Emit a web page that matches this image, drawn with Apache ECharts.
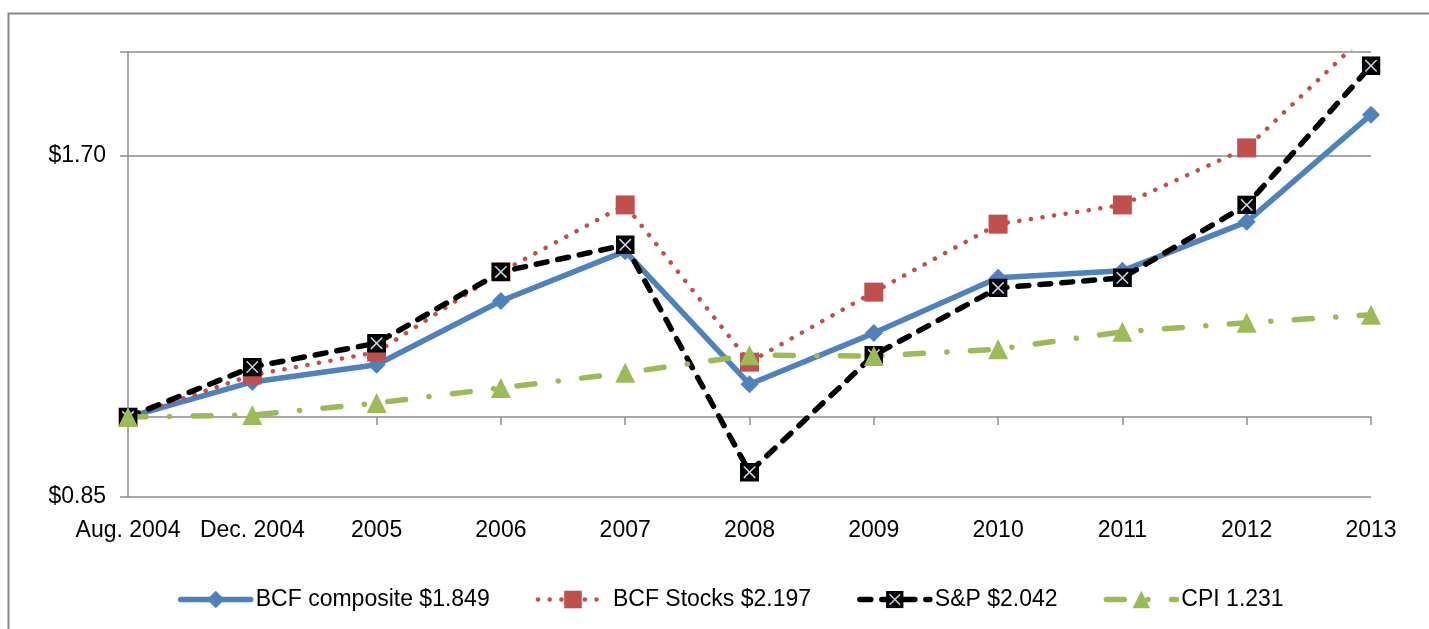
<!DOCTYPE html>
<html>
<head>
<meta charset="utf-8">
<script src="https://cdn.jsdelivr.net/npm/echarts@6/dist/echarts.min.js"></script>
<style>
html,body{margin:0;padding:0;background:#fff;}
#chart{width:1429px;height:629px;}
</style>
</head>
<body>
<div id="chart"></div>
<script>
const categories = ['Aug. 2004','Dec. 2004','2005','2006','2007','2008','2009','2010','2011','2012','2013'];
const composite = [1.000, 1.074, 1.112, 1.266, 1.401, 1.069, 1.186, 1.327, 1.346, 1.487, 1.849];
const stocks    = [1.000, 1.089, 1.141, 1.343, 1.539, 1.118, 1.289, 1.480, 1.539, 1.728, 2.197];
const sp        = [1.000, 1.107, 1.162, 1.343, 1.419, 0.894, 1.134, 1.300, 1.327, 1.539, 2.042];
const cpi       = [1.000, 1.004, 1.029, 1.061, 1.094, 1.134, 1.132, 1.148, 1.189, 1.211, 1.231];
const seriesNames = ['BCF composite $1.849','BCF Stocks $2.197','S&P $2.042','CPI 1.231'];
const yLabelValues = [0.85, 1.70];
const yTickValues = [0.85, 1.70, 2.1];
const yMin = 0.85, yMax = 2.1;

const FONT = 'Liberation Sans';
const spSvg = "<svg xmlns='http://www.w3.org/2000/svg' width='20' height='20'><rect x='0' y='0' width='20' height='20' fill='#000'/><path d='M4 4L16 16M16 4L4 16' stroke='#c9d5e6' stroke-width='1.6'/></svg>";
const spSymbol = 'image://data:image/svg+xml;charset=utf-8,' + encodeURIComponent(spSvg);

const styles = [
  {color: '#4f81bd', line: {color: '#4f81bd', width: 5.5, type: 'solid', cap: 'round', join: 'round'}},
  {color: '#c0504d', line: {color: '#c0504d', width: 4.5, type: [0.1, 11.6], cap: 'round'}},
  {color: '#000000', line: {color: '#000', width: 5.5, type: [11, 11], cap: 'round'}},
  {color: '#9bbb59', line: {color: '#9bbb59', width: 5.5, type: [18, 23.5, 0.1, 23.5], cap: 'round'}}
];

const chart = echarts.init(document.getElementById('chart'), null, {renderer:'canvas'});
const option = {
  backgroundColor: '#fff',
  animation: false,
  graphic: [{
    type: 'rect', silent: true, z: -10,
    shape: {x: 8.5, y: 13.5, width: 1440, height: 700},
    style: {fill: 'none', stroke: '#868686', lineWidth: 2}
  }],
  grid: {left: 128, right: 58, top: 52, bottom: 132, containLabel: false, outerBoundsMode: 'none'},
  legend: {
    left: 173, top: 583,
    itemWidth: 70, itemHeight: 22, itemGap: 46,
    textStyle: {fontFamily: FONT, fontSize: 23, color: '#000'},
    data: seriesNames.map((n, i) => ({
      name: n,
      lineStyle: {color: styles[i].line.color, width: styles[i].line.width, type: styles[i].line.type, cap: 'round'}
    }))
  },
  xAxis: [{
    type: 'category', data: categories, boundaryGap: false, position: 'bottom',
    axisLine: {show: false}, axisTick: {show: false},
    axisLabel: {fontFamily: FONT, fontSize: 23, color: '#000', margin: 22, interval: 0},
    splitLine: {show: false}
  }, {
    type: 'category', data: categories, boundaryGap: false, position: 'bottom', offset: 0,
    axisLine: {show: true, lineStyle: {color: '#8c8c8c', width: 1.5}},
    axisTick: {show: true, inside: false, length: 8, interval: 0, lineStyle: {color: '#8c8c8c', width: 1.5}},
    axisLabel: {show: false},
    splitLine: {show: false}
  }],
  yAxis: {
    type: 'log', logBase: 2, min: yMin, max: yMax,
    axisLine: {show: true, lineStyle: {color: '#8c8c8c', width: 1.5}},
    axisTick: {show: true, length: 8, customValues: yTickValues, lineStyle: {color: '#8c8c8c', width: 1.5}},
    axisLabel: {customValues: yLabelValues, fontFamily: FONT, fontSize: 23, color: '#000', margin: 22,
      formatter: v => '$' + Number(v).toFixed(2)},
    splitLine: {show: true, lineStyle: {color: '#8c8c8c', width: 1.5}}
  },
  series: [{
    name: seriesNames[0], type: 'line', data: composite, xAxisIndex: 0,
    symbol: 'diamond', symbolSize: 18,
    itemStyle: {color: styles[0].color},
    lineStyle: styles[0].line
  }, {
    name: seriesNames[1], type: 'line', data: stocks, xAxisIndex: 0,
    symbol: 'rect', symbolSize: 19,
    itemStyle: {color: styles[1].color},
    lineStyle: styles[1].line
  }, {
    name: seriesNames[2], type: 'line', data: sp, xAxisIndex: 0,
    symbol: spSymbol, symbolSize: 19,
    itemStyle: {color: styles[2].color},
    lineStyle: styles[2].line
  }, {
    name: seriesNames[3], type: 'line', data: cpi, xAxisIndex: 0,
    symbol: 'triangle', symbolSize: 20,
    itemStyle: {color: styles[3].color},
    lineStyle: styles[3].line
  }]
};
chart.setOption(option);
const yOne = chart.convertToPixel({yAxisIndex: 0}, 1);
const yBottom = chart.convertToPixel({yAxisIndex: 0}, yMin);
chart.setOption({xAxis: [{}, {offset: yOne - yBottom}]});
</script>
</body>
</html>
